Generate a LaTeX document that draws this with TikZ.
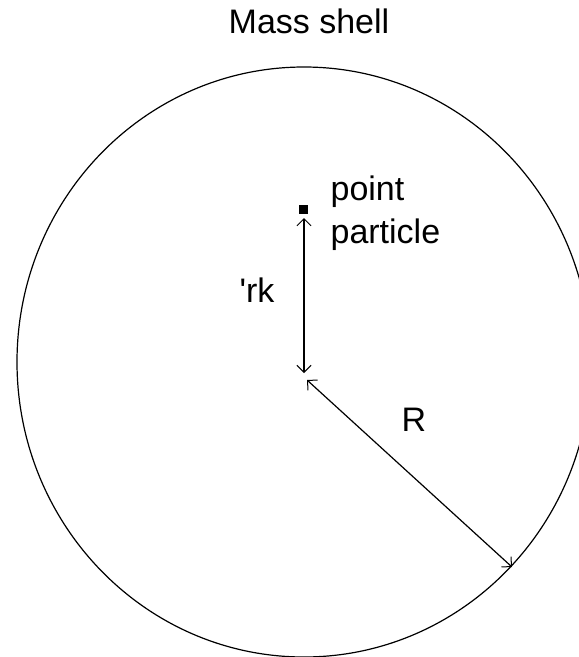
\documentclass[tikz,border=0pt]{standalone}
\usepackage{fontspec}
\setmainfont{Liberation Sans}
\usetikzlibrary{arrows.meta}
\tikzset{
  lbl/.style={inner sep=0pt,font=\fontsize{34}{40}\selectfont},
  barbs/.style={{Straight Barb[angle=90:10pt,line width=1pt]}-{Straight Barb[angle=90:10pt,line width=1pt]}},
}
\begin{document}
\begin{tikzpicture}[x=1pt,y=-1pt,line width=1.2pt]
			\useasboundingbox (0,0) rectangle (579,657);
			\clip (0,0) rectangle (579,657);
			% the shell
			\draw (304,362) ellipse (287 and 295);
			\node[lbl,anchor=base] (title) at (309,33) {Mass shell};
			% point particle and its distance from the centre
			\node[fill,inner sep=0pt,minimum size=9pt] (pp) at (303,209) {};
			\coordinate (top) at (304,218);
			\coordinate (mid) at (304,373);
			\coordinate (ctr) at (307,380);
			\coordinate (rim) at (512,567);
			\draw[barbs,line width=1.8pt] (top) -- (mid);
			\draw[barbs] (ctr) -- (rim);
			\node[lbl,anchor=base west] (point) at (330,200) {point};
			\node[lbl,anchor=base west] (particle) at (330,243) {particle};
			\node[lbl,anchor=base west] (rk) at (239,302) {\textquotesingle rk};
			\node[lbl,anchor=base west] (R) at (401,431) {R};
		\end{tikzpicture}
\end{document}
